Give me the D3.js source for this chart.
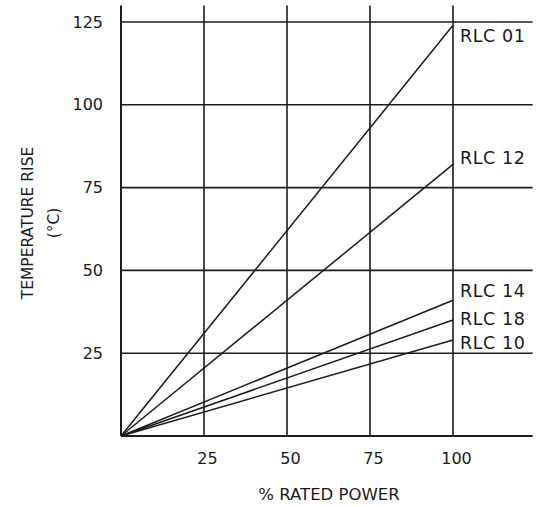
<!DOCTYPE html>
<html>
<head>
<meta charset="utf-8">
<script src="https://cdn.jsdelivr.net/npm/d3@7"></script>
<style>
  html, body { margin: 0; padding: 0; background: #fff; }
  svg { display: block; }
  text { font-family: "DejaVu Sans", sans-serif; fill: #1a1a1a; }
</style>
</head>
<body>
<svg id="chart" width="541" height="507"></svg>
<script>
// ---- data ----
const xTicks = [25, 50, 75, 100];
const yTicks = [25, 50, 75, 100, 125];
const seriesNames = ["RLC 01", "RLC 12", "RLC 14", "RLC 18", "RLC 10"];
const powerPoints = [0, 100];              // % rated power
const riseAtFull = [124, 82, 41, 35, 29];   // °C at 100% rated power
const labelAt = [121, 84, 44, 35.3, 28.3];  // label anchor values (°C)

// ---- scales ----
const svg = d3.select("#chart");
const x = d3.scaleLinear().domain([0, 125]).range([121, 536]);
const y = d3.scaleLinear().domain([0, 125]).range([436, 22]);
const ink = "#1c1c1c";

// horizontal grid lines
svg.append("g").selectAll("line").data(yTicks).join("line")
  .attr("x1", x(0)).attr("x2", x(124))
  .attr("y1", d => y(d)).attr("y2", d => y(d))
  .attr("stroke", ink).attr("stroke-width", 1.6);

// vertical grid lines
svg.append("g").selectAll("line").data(xTicks).join("line")
  .attr("x1", d => x(d)).attr("x2", d => x(d))
  .attr("y1", y(0)).attr("y2", y(130))
  .attr("stroke", ink).attr("stroke-width", 1.6);

// axes lines
svg.append("line").attr("x1", x(0)).attr("x2", x(124))
  .attr("y1", y(0)).attr("y2", y(0)).attr("stroke", ink).attr("stroke-width", 2);
svg.append("line").attr("x1", x(0)).attr("x2", x(0))
  .attr("y1", y(0)).attr("y2", y(130)).attr("stroke", ink).attr("stroke-width", 2);

// tick labels via d3 axes (no domain, no ticks)
const xAxis = d3.axisBottom(x).tickValues(xTicks).tickSize(0).tickPadding(17);
const gx = svg.append("g").attr("transform", `translate(0,${y(0)})`).call(xAxis);
gx.select(".domain").remove();
gx.selectAll("text").attr("font-size", 16).attr("font-family", "DejaVu Sans").attr("fill", ink).attr("dx", 3);

const yAxis = d3.axisLeft(y).tickValues(yTicks).tickSize(0).tickPadding(18);
const gy = svg.append("g").attr("transform", `translate(${x(0)},0)`).call(yAxis);
gy.select(".domain").remove();
gy.selectAll("text").attr("font-size", 16).attr("font-family", "DejaVu Sans").attr("fill", ink);

// series lines
const line = d3.line().x(d => x(d[0])).y(d => y(d[1]));
svg.append("g").selectAll("path").data(riseAtFull).join("path")
  .attr("d", v => line(powerPoints.map(p => [p, v * p / 100])))
  .attr("fill", "none").attr("stroke", ink).attr("stroke-width", 1.5);

// series labels
svg.append("g").selectAll("text").data(seriesNames).join("text")
  .attr("x", x(100) + 7)
  .attr("y", (d, i) => y(labelAt[i]))
  .attr("dy", "0.36em")
  .attr("font-size", 17.5)
  .attr("letter-spacing", 0.6)
  .text(d => d);

// axis titles
svg.append("text")
  .attr("x", 329).attr("y", 500)
  .attr("text-anchor", "middle").attr("font-size", 16.5)
  .text("% RATED POWER");

svg.append("text")
  .attr("transform", "translate(33,223) rotate(-90)")
  .attr("text-anchor", "middle").attr("font-size", 15.5)
  .text("TEMPERATURE RISE");

svg.append("text")
  .attr("transform", "translate(59,223) rotate(-90)")
  .attr("text-anchor", "middle").attr("font-size", 15.5)
  .text("(°C)");
</script>
</body>
</html>
